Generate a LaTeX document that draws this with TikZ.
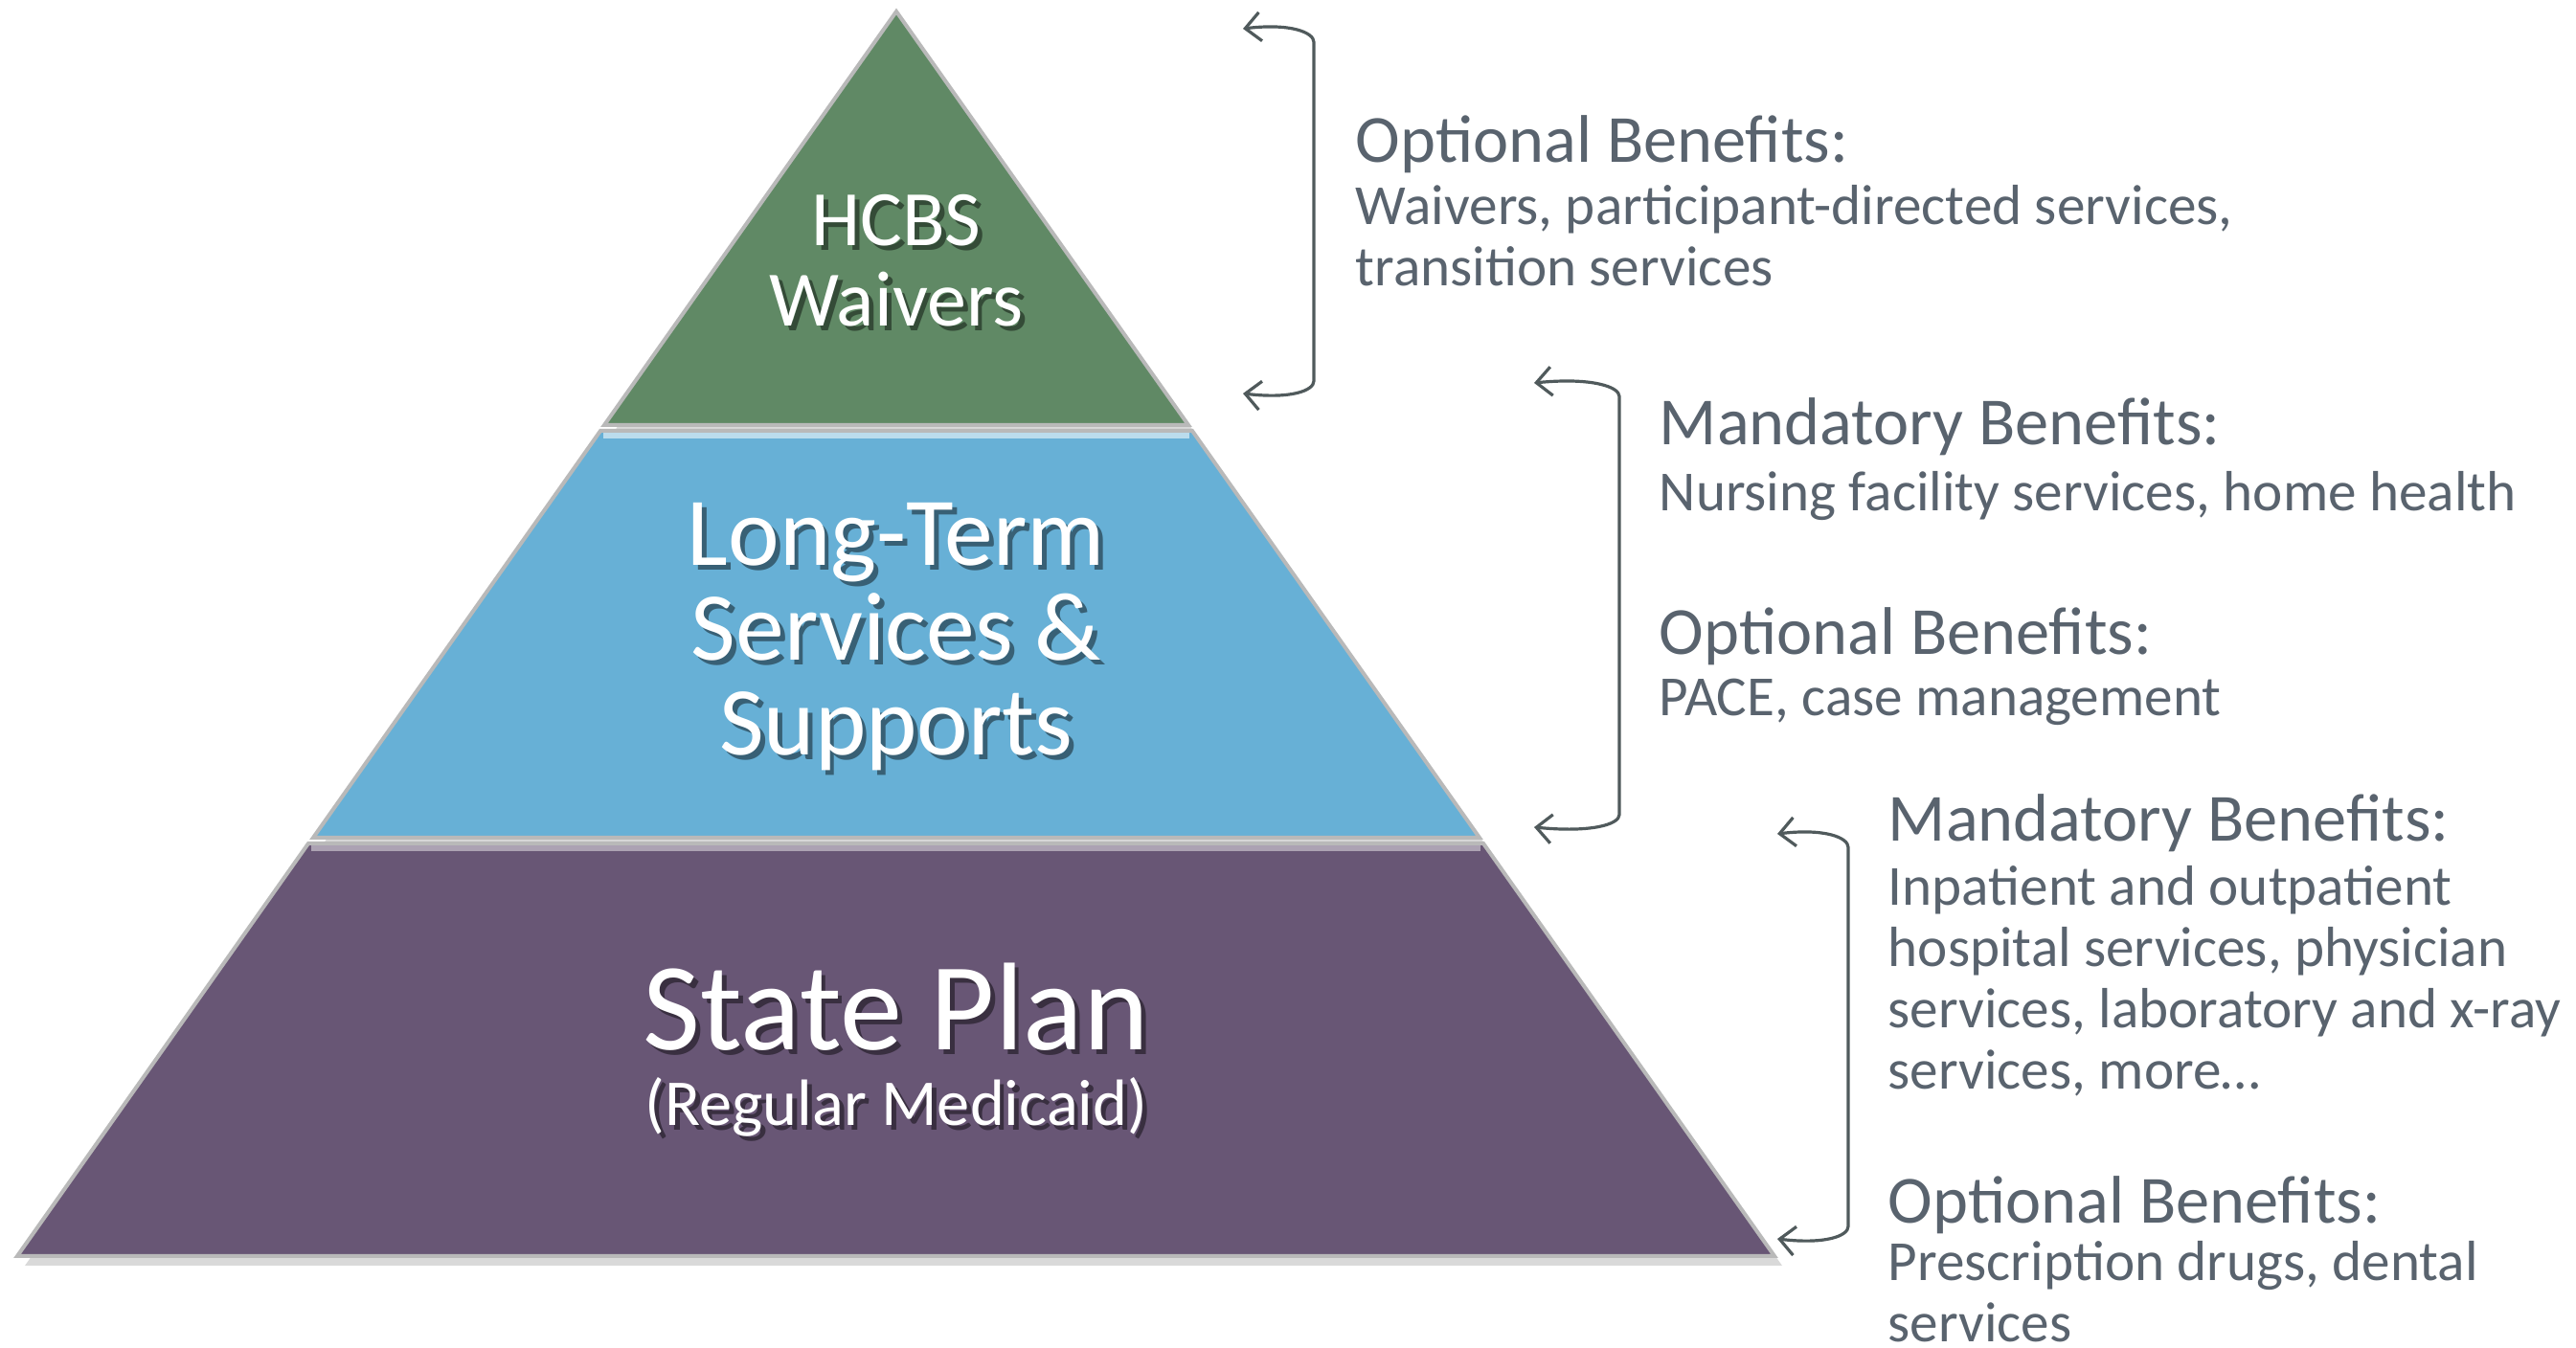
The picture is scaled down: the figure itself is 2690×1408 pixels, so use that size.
\documentclass[tikz,border=0pt]{standalone}
\usepackage{fontspec}
\setmainfont{Carlito}
\usetikzlibrary{arrows.meta}
\usetikzlibrary{shadows}
\definecolor{hcbsgreen}{RGB}{96,137,101}
\definecolor{ltssblue}{RGB}{103,176,214}
\definecolor{planpurple}{RGB}{104,86,117}
\definecolor{notegray}{RGB}{89,99,110}
\definecolor{bracegray}{RGB}{80,90,92}
\tikzset{
  tierbox/.style={draw=gray!55, line width=1pt, line join=miter,
    drop shadow={shadow xshift=2pt, shadow yshift=-2.5pt, opacity=0.3}},
  tiertext/.style={text=white, inner sep=0pt, align=center, anchor=base},
  brace/.style={draw=bracegray, line width=0.8pt,
    {Straight Barb[length=4pt,width=7.5pt]}-{Straight Barb[length=4pt,width=7.5pt]}},
  notehead/.style={text=notegray, inner sep=0pt, anchor=base west,
    font=\fontsize{17.6}{20}\selectfont},
  notebody/.style={text=notegray, inner sep=0pt, anchor=base west, align=left,
    font=\fontsize{14.8}{16}\selectfont},
}
% base of a multi-line node = baseline of its last line
\newcommand{\tiertitle}[6]{%
  \node[tiertext, text=black, opacity=0.45, font=\fontsize{#4}{#5}\selectfont,
    xshift=1.2pt, yshift=-1.2pt] (#1-sh) at (#2,#3) {#6};
  \node[tiertext, font=\fontsize{#4}{#5}\selectfont] (#1) at (#2,#3) {#6};}
\newcommand{\benefithead}[4]{\node[notehead] (#1) at ( #2 , #3 ) {#4};}
\newcommand{\benefitbody}[4]{\node[notebody] (#1) at ( #2 , #3 ) {#4};}

\begin{document}
\begin{tikzpicture}[x=0.25pt, y=-0.25pt]
        \useasboundingbox (0,0) rectangle (2690,1408);

        % tiers
        \filldraw[tierbox, fill=hcbsgreen] (936,12) -- (631,444) -- (1241,444) -- cycle;
        \filldraw[tierbox, fill=ltssblue] (627,450) -- (1245,450) -- (1545,875) -- (327,875) -- cycle;
        \filldraw[tierbox, fill=planpurple] (322,881) -- (1549,881) -- (1853,1312) -- (18,1312) -- cycle;
        \draw[ltssblue!45!white, line width=1.5pt] (630,455) -- (1242,455);
        \draw[planpurple!55!white, line width=1.5pt] (325,886) -- (1546,886);

        % tier titles
        \tiertitle{hcbs}{936}{341}{20.5}{21}{HCBS\\Waivers}
        \tiertitle{ltss}{936}{789}{25.4}{24.8}{Long-Term\\Services \&\\Supports}
        \tiertitle{plan}{936}{1097}{32.6}{34}{State Plan}
        \tiertitle{regular}{936}{1176}{17.1}{20}{(Regular Medicaid)}

        % brace ends
        \coordinate (b1a) at (1298,30);
        \coordinate (b1b) at (1298,411);
        \coordinate (b2a) at (1602,400);
        \coordinate (b2b) at (1602,864);
        \coordinate (b3a) at (1856,871);
        \coordinate (b3b) at (1856,1294);
        % brace corners
        \coordinate (b1c) at (1372,44);
        \coordinate (b1d) at (1372,398);
        \coordinate (b2c) at (1691,414);
        \coordinate (b2d) at (1691,851);
        \coordinate (b3c) at (1930,885);
        \coordinate (b3d) at (1930,1281);

        % braces
        \draw[brace] (b1a) .. controls +(50,-6) and +(0,-10) .. (b1c) -- (b1d) .. controls +(0,10) and +(50,6) .. (b1b);
        \draw[brace] (b2a) .. controls +(60,-6) and +(0,-10) .. (b2c) -- (b2d) .. controls +(0,10) and +(60,6) .. (b2b);
        \draw[brace] (b3a) .. controls +(50,-6) and +(0,-10) .. (b3c) -- (b3d) .. controls +(0,10) and +(50,6) .. (b3b);

        % notes for waivers
        \benefithead{opt1}{1415}{170}{Optional Benefits:}
        \benefitbody{opt1txt}{1415}{299}{Waivers, participant-directed services,\\transition services}

        % notes for long-term services
        \benefithead{mand2}{1732}{465}{Mandatory Benefits:}
        \benefitbody{mand2txt}{1732}{534}{Nursing facility services, home health}
        \benefithead{opt2}{1732}{684}{Optional Benefits:}
        \benefitbody{opt2txt}{1732}{748}{PACE, case management}

        % notes for state plan
        \benefithead{mand3}{1971}{879}{Mandatory Benefits:}
        \benefitbody{mand3txt}{1971}{1138}{Inpatient and outpatient\\hospital services, physician\\services, laboratory and x-ray\\services, more…}
        \benefithead{opt3}{1971}{1278}{Optional Benefits:}
        \benefitbody{opt3txt}{1971}{1402}{Prescription drugs, dental\\services}
\end{tikzpicture}
\end{document}
